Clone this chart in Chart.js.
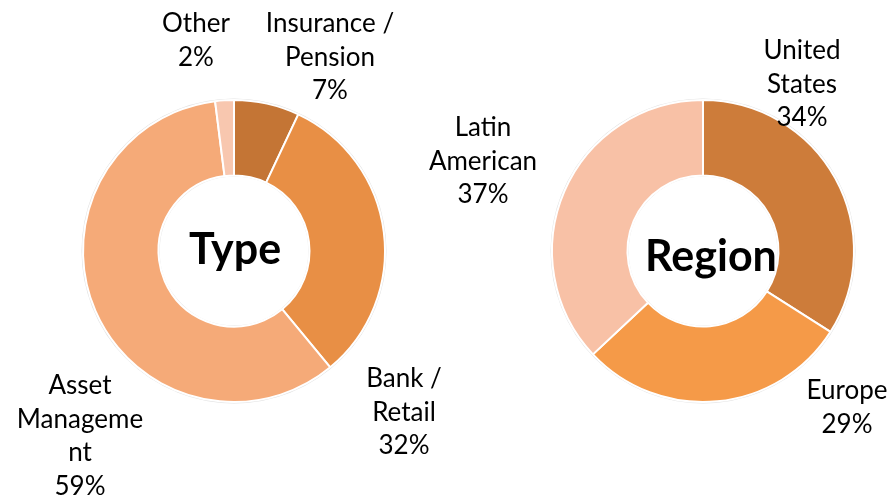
<!DOCTYPE html>
<html>
<head>
<meta charset="utf-8">
<script src="https://cdn.jsdelivr.net/npm/chart.js@4.4.0/dist/chart.umd.min.js"></script>
<style>
  html, body { margin: 0; padding: 0; background: #ffffff; }
  #wrap { position: relative; width: 889px; height: 502px; }
  #wrap canvas { position: absolute; left: 0; top: 0; }
</style>
</head>
<body>
<div id="wrap">
  <canvas id="type_chart" width="889" height="502"></canvas>
  <canvas id="region_chart" width="889" height="502"></canvas>
</div>
<script>
// 유형별 비중 (%)
const typeLabels = [['Insurance /', 'Pension'], ['Bank /', 'Retail'], ['Asset', 'Manageme', 'nt'], ['Other']];
const typeValues = [7, 32, 59, 2];
const typeColors = ['#C47535', '#E88F45', '#F5AA78', '#F8C7AF'];

// 지역별 비중 (%)
const regionLabels = [['United', 'States'], ['Europe'], ['Latin', 'American']];
const regionValues = [34, 29, 37];
const regionColors = ['#CD7C3A', '#F59A48', '#F8C1A6'];

// 라벨 위치 (첫 줄 중심)
const typeLabelPos = [[330, 24], [404, 379], [80, 386], [196, 24]];
const regionLabelPos = [[802, 51], [847, 391], [483, 128]];

const FONT = 'Lato, "Open Sans", sans-serif';
const LINE_H = 33.5;

// 바깥 라벨 + 가운데 제목
const outerLabels = {
  id: 'outerLabels',
  afterDraw(chart, args, opts) {
    const { ctx } = chart;
    const ds = chart.data.datasets[0];
    const total = ds.data.reduce((a, b) => a + b, 0);
    ctx.save();
    ctx.fillStyle = '#000';
    ctx.textAlign = 'center';
    ctx.textBaseline = 'middle';
    ctx.font = '26px ' + FONT;
    chart.data.labels.forEach((lines, i) => {
      const [x, y] = opts.pos[i];
      const pct = Math.round(ds.data[i] / total * 100) + '%';
      [...lines, pct].forEach((t, k) => ctx.fillText(t, x, y + k * LINE_H));
    });
    const arc = chart.getDatasetMeta(0).data[0];
    ctx.font = 'bold 43px ' + FONT;
    ctx.fillText(opts.title, arc.x + opts.titleDx, arc.y + opts.titleDy);
    ctx.restore();
  }
};

// 바깥 테두리 옅은 그림자
const ringShadow = {
  id: 'ringShadow',
  beforeDatasetsDraw(chart) {
    const arc = chart.getDatasetMeta(0).data[0];
    const { ctx } = chart;
    ctx.save();
    ctx.beginPath();
    ctx.arc(arc.x, arc.y, arc.outerRadius + 0.5, 0, Math.PI * 2);
    ctx.strokeStyle = 'rgba(0,0,0,0.12)';
    ctx.lineWidth = 2;
    ctx.stroke();
    ctx.beginPath();
    ctx.arc(arc.x, arc.y, arc.innerRadius - 0.5, 0, Math.PI * 2);
    ctx.strokeStyle = 'rgba(0,0,0,0.10)';
    ctx.lineWidth = 1.5;
    ctx.stroke();
    ctx.restore();
  }
};

function makeDonut(id, labels, values, colors, pad, pos, title, titleDx, titleDy) {
  new Chart(document.getElementById(id), {
    type: 'doughnut',
    data: {
      labels: labels,
      datasets: [{
        data: values,
        backgroundColor: colors,
        borderColor: '#ffffff',
        borderWidth: 2
      }]
    },
    options: {
      responsive: false,
      animation: false,
      cutout: '50%',
      layout: { padding: pad },
      plugins: {
        legend: { display: false },
        tooltip: { enabled: false },
        outerLabels: { pos: pos, title: title, titleDx: titleDx, titleDy: titleDy }
      }
    },
    plugins: [ringShadow, outerLabels]
  });
}

makeDonut('type_chart', typeLabels, typeValues, typeColors,
  { left: 82, right: 503, top: 99, bottom: 99 }, typeLabelPos, 'Type', 1, -1);
makeDonut('region_chart', regionLabels, regionValues, regionColors,
  { left: 551, right: 34, top: 99, bottom: 99 }, regionLabelPos, 'Region', 8, 6);
</script>
</body>
</html>
